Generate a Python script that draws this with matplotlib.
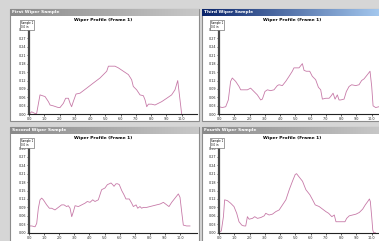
import numpy as np
import matplotlib
matplotlib.use("Agg")
import matplotlib.pyplot as plt
from matplotlib.patches import Rectangle

# Wiper profile samples (x = position along wiper in %, y = relative pressure)
first_x = [0.7, 1.7, 3.9, 5.0, 7.2, 10.5, 12.7, 13.8, 15.9, 19.2, 20.3, 22.5, 24.0, 25.8, 26.9, 27.9,
           29.0, 30.8, 33.4, 37.8, 42.1, 46.5, 48.7, 50.9, 52.0, 54.1, 56.3, 58.5, 61.8, 65.1, 67.2,
           68.3, 70.5, 72.7, 74.9, 76.0, 77.1, 78.2, 80.3, 82.5, 84.7, 86.9, 90.2, 93.4, 95.6, 97.4, 100.0]
first_y = [0.01, 0.03, 0.01, 0.01, 0.23, 0.21, 0.15, 0.11, 0.10, 0.08, 0.08, 0.13, 0.19, 0.19, 0.13, 0.09,
           0.15, 0.24, 0.25, 0.31, 0.37, 0.43, 0.47, 0.51, 0.57, 0.57, 0.57, 0.55, 0.51, 0.47, 0.41,
           0.33, 0.29, 0.23, 0.22, 0.17, 0.09, 0.12, 0.12, 0.11, 0.13, 0.15, 0.19, 0.23, 0.29, 0.40, 0.0]

third_x = [0.0, 2.2, 4.4, 6.1, 7.6, 8.7, 10.9, 13.1, 14.2, 16.4, 18.6, 20.7, 22.9, 25.1, 27.3, 28.4,
           30.1, 31.7, 33.8, 36.0, 38.2, 39.3, 41.5, 43.7, 45.9, 48.0, 49.1, 51.3, 52.4, 54.6, 55.7,
           57.2, 59.4, 61.1, 63.3, 65.1, 66.6, 67.7, 69.9, 72.1, 73.1, 74.7, 76.0, 77.5, 78.6, 79.7,
           81.9, 83.4, 85.2, 86.9, 89.5, 91.7, 93.4, 95.0, 97.2, 98.9, 100.0, 100.9, 102.6, 104.8]
third_y = [0.09, 0.08, 0.09, 0.17, 0.39, 0.43, 0.39, 0.33, 0.29, 0.29, 0.29, 0.31, 0.27, 0.23, 0.17, 0.18,
           0.27, 0.29, 0.28, 0.29, 0.34, 0.35, 0.34, 0.39, 0.45, 0.51, 0.55, 0.55, 0.55, 0.60, 0.52,
           0.51, 0.51, 0.45, 0.41, 0.32, 0.29, 0.18, 0.19, 0.19, 0.21, 0.25, 0.18, 0.23, 0.17, 0.17,
           0.18, 0.27, 0.33, 0.35, 0.34, 0.35, 0.40, 0.42, 0.47, 0.51, 0.33, 0.10, 0.08, 0.09]

second_x = [0.0, 1.8, 4.0, 5.1, 6.2, 7.3, 8.4, 9.5, 11.7, 13.5, 15.0, 17.2, 19.4, 21.6, 23.2, 24.9,
            26.0, 27.2, 28.3, 29.4, 30.5, 32.7, 34.9, 37.1, 38.6, 40.4, 42.2, 43.7, 45.9, 47.0, 48.1,
            50.3, 51.9, 53.2, 54.3, 55.4, 56.3, 57.6, 58.7, 59.8, 61.4, 62.9, 64.2, 66.4, 68.0, 69.1,
            70.9, 72.0, 73.5, 74.6, 75.7, 77.9, 80.1, 82.3, 84.5, 86.8, 89.0, 91.2, 92.7, 94.5, 96.7,
            98.9, 100.0, 101.1, 102.2, 104.4, 106.6]
second_y = [0.08, 0.08, 0.07, 0.11, 0.29, 0.39, 0.41, 0.39, 0.33, 0.29, 0.29, 0.27, 0.30, 0.33, 0.33, 0.31,
            0.32, 0.29, 0.19, 0.25, 0.32, 0.31, 0.33, 0.35, 0.37, 0.36, 0.39, 0.37, 0.39, 0.45, 0.51,
            0.53, 0.57, 0.58, 0.59, 0.57, 0.55, 0.58, 0.58, 0.57, 0.50, 0.45, 0.40, 0.40, 0.35, 0.31,
            0.33, 0.29, 0.31, 0.29, 0.30, 0.30, 0.31, 0.32, 0.33, 0.34, 0.36, 0.33, 0.31, 0.36, 0.41,
            0.46, 0.42, 0.25, 0.09, 0.08, 0.08]

fourth_x = [0.0, 1.5, 2.9, 3.7, 5.5, 7.6, 9.8, 11.6, 13.1, 14.9, 16.4, 17.5, 18.6, 19.7, 21.9, 23.4,
            25.2, 27.4, 29.6, 30.6, 32.8, 35.0, 37.2, 39.4, 41.6, 43.8, 46.0, 48.1, 49.9, 50.8, 52.5,
            54.7, 56.9, 59.5, 61.3, 63.0, 65.6, 67.8, 70.0, 71.8, 73.9, 75.5, 76.6, 78.8, 81.0, 82.5,
            83.6, 85.3, 87.5, 89.7, 91.9, 94.1, 95.8, 97.4, 98.5, 99.1, 100.0, 100.7, 101.3, 102.4]
fourth_y = [0.01, 0.02, 0.19, 0.39, 0.38, 0.35, 0.31, 0.23, 0.13, 0.09, 0.08, 0.08, 0.19, 0.16, 0.17, 0.19,
            0.17, 0.18, 0.20, 0.23, 0.21, 0.22, 0.25, 0.27, 0.33, 0.39, 0.51, 0.61, 0.69, 0.70, 0.66,
            0.61, 0.51, 0.45, 0.39, 0.33, 0.31, 0.28, 0.25, 0.23, 0.19, 0.21, 0.13, 0.13, 0.13, 0.13,
            0.17, 0.20, 0.21, 0.22, 0.24, 0.28, 0.33, 0.37, 0.40, 0.37, 0.19, 0.03, 0.0, 0.0]

x_ticks = [0, 10, 20, 30, 40, 50, 60, 70, 80, 90, 100]
y_ticks = [0.0, 0.1, 0.2, 0.3, 0.4, 0.5, 0.6, 0.7, 0.8, 0.9, 1.0]

W, H = 379, 241
CURVE = "#c77aa8"


def fx(x):
    return x / W


def fy(y):
    return 1 - y / H


def draw_window(fig, x0, y0, x1, y1, title, active):
    # window body
    fig.add_artist(Rectangle((fx(x0), fy(y1)), fx(x1 - x0), (y1 - y0) / H, transform=fig.transFigure,
                             facecolor="white", edgecolor="#8c8c8c", linewidth=0.8, zorder=-5))
    # title bar with gradient
    tb = fig.add_axes([fx(x0), fy(y0 + 7), fx(x1 - x0), 7 / H])
    grad = np.linspace(0, 1, 256).reshape(1, -1)
    if active:
        cmap = matplotlib.colors.LinearSegmentedColormap.from_list("act", ["#0a246a", "#a6caf0"])
    else:
        cmap = matplotlib.colors.LinearSegmentedColormap.from_list("ina", ["#8a8a8a", "#c8c8c8"])
    tb.imshow(grad, cmap=cmap, aspect="auto")
    tb.axis("off")
    tb.text(0.01, 0.5, title, transform=tb.transAxes, fontsize=3.2, color="white",
            fontweight="bold", va="center", ha="left")


def draw_panel(fig, xs, ys, left, x100, right, top, bottom, title_x, title_y, legend_xy):
    ax = fig.add_axes([fx(left), fy(bottom), fx(right - left), (bottom - top) / H])
    xmax = (right - left) / (x100 - left) * 100
    ax.plot(xs, ys, color=CURVE, linewidth=0.6)
    ax.set_xlim(0, xmax)
    ax.set_ylim(0, 1.04)
    ax.set_xticks(x_ticks)
    ax.set_xticklabels(["%.1f" % (t / 10) for t in x_ticks])
    ax.set_yticks(y_ticks)
    ax.set_yticklabels(["%.2f" % (t * 0.3) for t in y_ticks])
    ax.tick_params(labelsize=2.4, length=1.5, width=0.5, pad=0.8, colors="#222222")
    ax.spines["top"].set_visible(False)
    ax.spines["right"].set_visible(False)
    ax.spines["left"].set_linewidth(1.6)
    ax.spines["left"].set_color("#4a4a4a")
    ax.spines["bottom"].set_linewidth(0.8)
    ax.spines["bottom"].set_color("#222222")
    ax.patch.set_alpha(0)
    fig.text(fx(title_x), fy(title_y), "Wiper Profile (Frame 1)", fontsize=3.2, fontweight="bold",
             ha="center", va="center")
    fig.text(fx(legend_xy[0]), fy(legend_xy[1]), "Sample 1\n0.0 in", fontsize=1.9, ha="left", va="top",
             linespacing=0.95,
             bbox=dict(boxstyle="square,pad=0.25", facecolor="white", edgecolor="#555555", linewidth=0.4))
    return ax


fig = plt.figure(figsize=(W / 100, H / 100), dpi=100)
fig.patch.set_facecolor("#d6d6d6")

draw_window(fig, 10, 9, 199, 121, "First Wiper Sample", False)
draw_window(fig, 202, 9, 382, 121, "Third Wiper Sample", True)
draw_window(fig, 10, 127, 199, 244, "Second Wiper Sample", False)
draw_window(fig, 202, 127, 382, 244, "Fourth Wiper Sample", False)

draw_panel(fig, first_x, first_y, 29, 181.7, 197, 26.5, 114.3, 103, 20, (21, 21))
draw_panel(fig, third_x, third_y, 219, 371.7, 379, 26.5, 114.3, 292, 20, (211, 21))
draw_panel(fig, second_x, second_y, 29, 180, 197, 145, 232.7, 103, 138, (21, 139))
draw_panel(fig, fourth_x, fourth_y, 219, 371.7, 379, 145, 232.7, 292, 138, (211, 139))

fig.savefig("out.png", dpi=100, facecolor=fig.get_facecolor())
